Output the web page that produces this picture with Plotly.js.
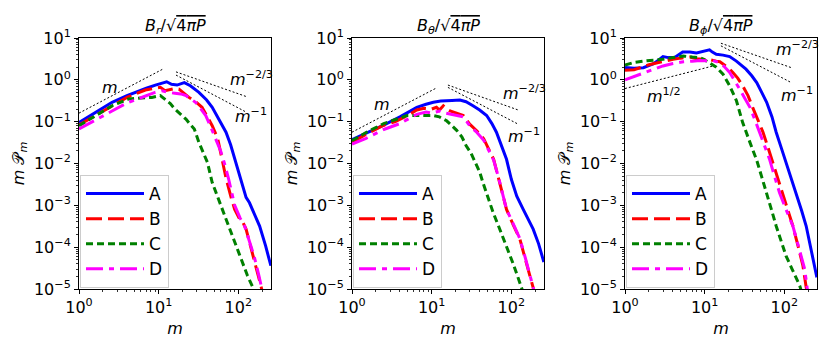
<!DOCTYPE html>
<html>
<head>
<meta charset="utf-8">
<script src="https://cdn.plot.ly/plotly-3.0.1.min.js"></script>
<style>body{margin:0;background:#fff}#plot{width:830px;height:346px}</style>
</head>
<body>
<div id="plot"></div>
<script>
// series names + colours
var names = ['A', 'B', 'C', 'D'];
var colors = ['#0000ff', '#ff0000', '#008000', '#ff00ff'];
var dashes = ['solid', '16px,6px', '7px,4px', '17px,6px,5px,6px'];

// ---- panel 1: B_r ----
var rA_m = [1, 1.5, 2.6, 4, 5.6, 7, 9.1, 11, 12.6, 14.5, 17, 21, 25, 32, 40, 47, 58, 70, 80, 93, 110, 125, 138, 160, 185, 220, 256];
var rA_v = [0.095, 0.15, 0.29, 0.42, 0.55, 0.63, 0.75, 0.82, 0.9, 0.78, 0.75, 0.86, 0.72, 0.5, 0.33, 0.22, 0.11, 0.056, 0.028, 0.0104, 0.0032, 0.00155, 0.00115, 0.0006, 0.00032, 0.000107, 0.000036];
var rB_m = [1, 1.5, 2.6, 4, 6.8, 8.5, 10.5, 12, 14, 16, 18, 21, 24, 29, 35, 41, 47, 55, 63, 70, 80, 90, 105, 115, 125, 140, 152, 170, 194, 205];
var rB_v = [0.083, 0.13, 0.24, 0.38, 0.57, 0.62, 0.66, 0.55, 0.6, 0.62, 0.6, 0.47, 0.38, 0.3, 0.22, 0.13, 0.08, 0.04, 0.012, 0.0045, 0.0017, 0.0008, 0.00045, 0.00038, 0.00027, 0.00012, 0.000074, 0.00003, 0.000011, 0.000007];
var rC_m = [1, 1.5, 2.6, 4.2, 6, 8.2, 10.5, 12.7, 14, 16, 19, 22, 25, 28, 32, 36, 41, 47, 55, 63, 73, 85, 98, 113, 130, 152, 165];
var rC_v = [0.08, 0.13, 0.24, 0.35, 0.37, 0.38, 0.42, 0.32, 0.27, 0.2, 0.15, 0.115, 0.085, 0.067, 0.032, 0.018, 0.0105, 0.0035, 0.0016, 0.0008, 0.00037, 0.00019, 0.00009, 0.000043, 0.000021, 0.000011, 0.000007];
var rD_m = [1, 1.5, 2.6, 4, 6.8, 9, 11, 13, 16, 19, 22, 25, 29, 34, 39, 45, 52, 60, 67, 75, 90, 105, 120, 140, 160, 180, 200, 210];
var rD_v = [0.067, 0.1, 0.18, 0.28, 0.42, 0.5, 0.55, 0.5, 0.48, 0.46, 0.42, 0.36, 0.29, 0.2, 0.14, 0.075, 0.039, 0.02, 0.01, 0.0045, 0.001, 0.0005, 0.00032, 0.00013, 0.000055, 0.000022, 0.000009, 0.000006];

// ---- panel 2: B_theta ----
var tA_m = [1, 1.5, 2.5, 4, 6.5, 8.5, 10.5, 13, 15.4, 18, 22.6, 27, 33, 40, 49, 57, 65, 75, 87, 100, 117, 141, 165, 188, 220, 256];
var tA_v = [0.037, 0.052, 0.083, 0.13, 0.22, 0.26, 0.29, 0.31, 0.32, 0.32, 0.33, 0.3, 0.24, 0.19, 0.14, 0.09, 0.056, 0.028, 0.0126, 0.0042, 0.00166, 0.0008, 0.00043, 0.00027, 0.00012, 0.000044];
var tB_m = [1, 1.5, 2.5, 3.5, 5, 6.5, 8, 10, 11.5, 12.5, 14, 15.5, 17, 20, 25, 30, 37, 45, 52, 60, 70, 80, 87, 105, 128, 150, 170, 188, 200];
var tB_v = [0.032, 0.05, 0.082, 0.1, 0.14, 0.19, 0.21, 0.2, 0.22, 0.19, 0.24, 0.2, 0.18, 0.16, 0.14, 0.087, 0.06, 0.039, 0.022, 0.0126, 0.004, 0.0015, 0.0008, 0.00035, 0.000155, 0.000051, 0.000022, 0.000011, 0.000007];
var tC_m = [1, 1.5, 2.5, 3.5, 4.9, 6.5, 8.7, 10.5, 12.5, 15.4, 18, 20.6, 24, 27, 31, 35, 40, 44, 50, 59, 70, 87, 105, 120, 134, 145];
var tC_v = [0.035, 0.055, 0.09, 0.11, 0.14, 0.14, 0.14, 0.14, 0.13, 0.105, 0.08, 0.062, 0.043, 0.027, 0.018, 0.011, 0.0063, 0.0035, 0.0017, 0.00068, 0.0003, 0.000107, 0.000041, 0.00002, 0.000011, 0.000007];
var tD_m = [1, 1.5, 2.5, 4, 6.5, 8.5, 10, 12.6, 15, 18, 22, 25, 30, 37, 45, 52, 60, 70, 87, 105, 128, 150, 170, 188, 200];
var tD_v = [0.029, 0.04, 0.065, 0.09, 0.15, 0.17, 0.16, 0.18, 0.16, 0.15, 0.14, 0.13, 0.08, 0.055, 0.036, 0.02, 0.012, 0.0042, 0.0008, 0.00037, 0.00016, 0.000055, 0.000023, 0.000011, 0.000007];

// ---- panel 3: B_phi ----
var pA_m = [1, 1.3, 1.7, 2.25, 2.6, 3.0, 3.5, 4.2, 5.3, 6.5, 7.9, 9.5, 11.5, 12.5, 14, 17, 20.6, 25, 29, 33, 39, 45, 52, 60, 70, 79, 92, 105, 120, 141, 165, 188, 220, 256];
var pA_v = [1.96, 1.9, 1.95, 2.4, 2.9, 3.6, 3.4, 3.4, 4.6, 4.6, 4.4, 4.7, 5.2, 4.6, 4.1, 3.9, 3.6, 2.8, 2.2, 1.8, 1.25, 0.86, 0.5, 0.29, 0.13, 0.056, 0.023, 0.0107, 0.005, 0.002, 0.00074, 0.00032, 0.00008, 0.000019];
var pB_m = [1, 1.3, 2, 3, 4, 5, 6.5, 8, 10, 12, 14, 15.5, 17, 20, 22.6, 26, 30, 35, 40, 47, 54, 62, 69, 80, 96, 110, 128, 150, 171, 188, 200];
var pB_v = [1.7, 1.75, 2.3, 2.8, 3.1, 3.3, 3.5, 3.2, 3.1, 3.0, 2.8, 2.7, 2.4, 1.9, 1.5, 1.1, 0.72, 0.42, 0.22, 0.11, 0.056, 0.025, 0.0129, 0.0051, 0.00166, 0.00076, 0.00032, 0.0001, 0.000036, 0.000011, 0.000006];
var pC_m = [1, 1.3, 1.7, 2.2, 3, 4, 5.4, 7, 8.7, 10, 11.5, 14, 17, 20.6, 25, 30, 37, 45, 52, 60, 69, 79, 90, 105, 125, 156, 170];
var pC_v = [2.24, 2.6, 2.8, 2.9, 3.1, 3.4, 3.7, 3.5, 3.4, 3.0, 2.5, 2.0, 1.37, 0.72, 0.32, 0.095, 0.032, 0.012, 0.0048, 0.002, 0.00078, 0.00032, 0.00015, 0.000062, 0.00003, 0.000012, 0.000007];
var pD_m = [1, 1.3, 1.7, 2.2, 3, 4, 5.4, 7, 8.7, 10.5, 12.6, 15, 17.5, 20.6, 24, 27.5, 32, 37, 43, 49, 57, 65, 75, 87, 105, 128, 150, 180, 193, 205];
var pD_v = [1.0, 1.2, 1.5, 1.8, 2.15, 2.45, 2.7, 2.8, 2.9, 2.85, 2.9, 2.6, 2.1, 1.5, 0.95, 0.6, 0.36, 0.22, 0.107, 0.056, 0.026, 0.0129, 0.0051, 0.002, 0.0008, 0.00032, 0.000107, 0.00003, 0.000011, 0.000006];

// power-law guide lines (end points)
var g1_m = [[1, 11.5], [16.5, 125], [16.5, 125]];
var g1_v = [[0.16, 1.84], [1.55, 0.4], [1.3, 0.17]];
var g2_m = [[1, 11.5], [16, 122], [16, 122]];
var g2_v = [[0.056, 0.64], [0.75, 0.19], [0.66, 0.087]];
var g3_m = [[1, 13.4], [16, 122], [16, 122]];
var g3_v = [[0.62, 2.2], [7.5, 1.96], [6.5, 0.86]];

// guide labels
var lab1 = [['<i>m</i>', 2.45, 0.65], ['<i>m</i><sup>−2/3</sup>', 145, 1.05], ['<i>m</i><sup>−1</sup>', 145, 0.14]];
var lab2 = [['<i>m</i>', 2.4, 0.26], ['<i>m</i><sup>−2/3</sup>', 145, 0.5], ['<i>m</i><sup>−1</sup>', 145, 0.046]];
var lab3 = [['<i>m</i><sup>1/2</sup>', 3.1, 0.42], ['<i>m</i><sup>−2/3</sup>', 145, 5.6], ['<i>m</i><sup>−1</sup>', 145, 0.45]];

var panelTitles = [
  '<i>B<sub>r</sub></i>/√<span style="text-decoration:overline">4<i>πP</i></span>',
  '<i>B<sub>θ</sub></i>/√<span style="text-decoration:overline">4<i>πP</i></span>',
  '<i>B<sub>ϕ</sub></i>/√<span style="text-decoration:overline">4<i>πP</i></span>'
];

var panels = [
  {ms: [rA_m, rB_m, rC_m, rD_m], vs: [rA_v, rB_v, rC_v, rD_v], gm: g1_m, gv: g1_v, lab: lab1},
  {ms: [tA_m, tB_m, tC_m, tD_m], vs: [tA_v, tB_v, tC_v, tD_v], gm: g2_m, gv: g2_v, lab: lab2},
  {ms: [pA_m, pB_m, pC_m, pD_m], vs: [pA_v, pB_v, pC_v, pD_v], gm: g3_m, gv: g3_v, lab: lab3}
];

var W = 830, H = 346;
var leftPx = [79, 352, 625], pw = 192;
var topPx = 38, botPx = 289;
var font = 'DejaVu Sans, sans-serif';

var data = [];
var annotations = [];
var layout = {
  width: W, height: H,
  margin: {l: 0, r: 0, t: 0, b: 0},
  paper_bgcolor: '#fff', plot_bgcolor: '#fff',
  font: {family: font, color: '#000', size: 16},
  showlegend: true
};

var yt = [1e-5, 1e-4, 1e-3, 1e-2, 1e-1, 1, 10];
var ytxt = ['10<sup>−5</sup>', '10<sup>−4</sup>', '10<sup>−3</sup>', '10<sup>−2</sup>', '10<sup>−1</sup>', '10<sup>0</sup>', '10<sup>1</sup>'];
var minorVals = [];
[1e-5, 1e-4, 1e-3, 1e-2, 1e-1, 1, 10, 100].forEach(function (d) {
  for (var k = 2; k <= 9; k++) minorVals.push(d * k);
});

panels.forEach(function (p, i) {
  var n = i + 1;
  var xa = 'x' + (n === 1 ? '' : n), ya = 'y' + (n === 1 ? '' : n);
  var leg = 'legend' + (n === 1 ? '' : n);

  // guide lines first so curves sit on top
  p.gm.forEach(function (gm, j) {
    data.push({x: gm, y: p.gv[j], xaxis: xa, yaxis: ya, mode: 'lines', showlegend: false,
      line: {color: '#000', width: 1, dash: '2px,2px'}, hoverinfo: 'skip'});
  });

  p.ms.forEach(function (m, k) {
    data.push({x: m, y: p.vs[k], xaxis: xa, yaxis: ya, mode: 'lines', name: names[k],
      legend: leg, line: {color: colors[k], width: 3, dash: dashes[k]}});
  });

  p.lab.forEach(function (l) {
    annotations.push({text: l[0], x: Math.log10(l[1]), y: Math.log10(l[2]), xref: xa, yref: ya,
      showarrow: false, font: {size: 16, family: font}});
  });

  var x0 = leftPx[i] / W, x1 = (leftPx[i] + pw) / W;
  var axCommon = {showline: true, mirror: true, linecolor: '#000', linewidth: 1,
    ticks: 'outside', ticklen: 4, tickwidth: 1, tickcolor: '#000', showgrid: false, zeroline: false,
    type: 'log', tickfont: {size: 16, family: font},
    minor: {ticks: 'outside', ticklen: 2, tickwidth: 0.8, tickcolor: '#000', tickvals: minorVals, showgrid: false}};

  layout['xaxis' + (n === 1 ? '' : n)] = Object.assign({}, axCommon, {
    domain: [x0, x1], anchor: ya, range: [0, 2.41],
    tickvals: [1, 10, 100], ticktext: ['10<sup>0</sup>', '10<sup>1</sup>', '10<sup>2</sup>'],
    title: {text: '<i>m</i>', font: {size: 16, family: font}, standoff: 6}
  });
  layout['yaxis' + (n === 1 ? '' : n)] = Object.assign({}, axCommon, {
    domain: [1 - botPx / H, 1 - topPx / H], anchor: xa, range: [-5, 1],
    tickvals: yt, ticktext: ytxt,
    title: {text: '<i>m</i> 𝒫<sub><i>m</i></sub>', font: {size: 16, family: font}, standoff: 5}
  });

  layout[leg] = {x: (leftPx[i] + 1) / W, y: 1 - (botPx - 1) / H, xanchor: 'left', yanchor: 'bottom',
    bgcolor: 'rgba(255,255,255,0.8)', bordercolor: '#cccccc', borderwidth: 1,
    font: {size: 17, family: font}, tracegroupgap: 0, itemwidth: 58};

  annotations.push({text: panelTitles[i], xref: 'paper', yref: 'paper',
    x: (leftPx[i] + pw / 2) / W, y: 1 - 26 / H, xanchor: 'center', yanchor: 'middle',
    showarrow: false, font: {size: 16, family: font}});
});

layout.annotations = annotations;

Plotly.newPlot('plot', data, layout, {staticPlot: true});
</script>
</body>
</html>
